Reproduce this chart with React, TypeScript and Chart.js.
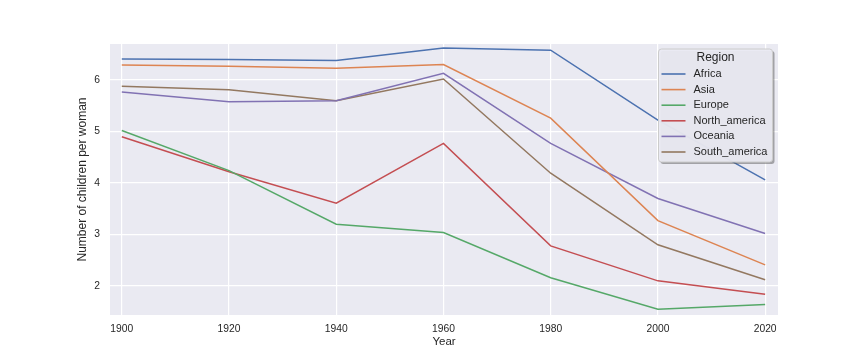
import React, { useEffect, useRef } from "react";
import { Chart, registerables } from "chart.js";

Chart.register(...registerables);

const years = [1900, 1920, 1940, 1960, 1980, 2000, 2020];
const regions = ["Africa", "Asia", "Europe", "North_america", "Oceania", "South_america"];
const africa = [6.41, 6.40, 6.38, 6.62, 6.58, 5.22, 4.06];
const asia = [6.29, 6.27, 6.23, 6.30, 5.26, 3.27, 2.41];
const europe = [5.02, 4.24, 3.20, 3.04, 2.16, 1.55, 1.64];
const northAmerica = [4.90, 4.22, 3.61, 4.77, 2.78, 2.10, 1.84];
const oceania = [5.77, 5.58, 5.60, 6.13, 4.77, 3.70, 3.02];
const southAmerica = [5.88, 5.81, 5.60, 6.02, 4.19, 2.80, 2.12];
const seriesValues = [africa, asia, europe, northAmerica, oceania, southAmerica];
const colors = ["#4c72b0", "#dd8452", "#55a868", "#c44e52", "#8172b3", "#937860"];
const FONT = "'Liberation Sans', Arial, sans-serif";

const bgPlugin = {
  id: "bgPlugin",
  beforeDraw(chart: any) {
    const { ctx, chartArea } = chart;
    ctx.save();
    ctx.fillStyle = "#ffffff";
    ctx.fillRect(0, 0, chart.width, chart.height);
    ctx.fillStyle = "#eaeaf2";
    ctx.fillRect(chartArea.left, chartArea.top, chartArea.right - chartArea.left, chartArea.bottom - chartArea.top);
    ctx.restore();
  },
};

function roundRect(ctx: CanvasRenderingContext2D, x: number, y: number, w: number, h: number, r: number) {
  ctx.beginPath();
  ctx.moveTo(x + r, y);
  ctx.lineTo(x + w - r, y);
  ctx.quadraticCurveTo(x + w, y, x + w, y + r);
  ctx.lineTo(x + w, y + h - r);
  ctx.quadraticCurveTo(x + w, y + h, x + w - r, y + h);
  ctx.lineTo(x + r, y + h);
  ctx.quadraticCurveTo(x, y + h, x, y + h - r);
  ctx.lineTo(x, y + r);
  ctx.quadraticCurveTo(x, y, x + r, y);
  ctx.closePath();
}

const legendPlugin = {
  id: "customLegend",
  afterDraw(chart: any) {
    const { ctx, chartArea } = chart;
    const bx = chartArea.right - 119.5;
    const by = chartArea.top + 5;
    const bw = 114;
    const bh = 113;
    ctx.save();
    roundRect(ctx, bx + 2, by + 2, bw, bh, 3);
    ctx.fillStyle = "rgba(90,90,90,0.5)";
    ctx.fill();
    roundRect(ctx, bx, by, bw, bh, 3);
    ctx.fillStyle = "rgba(234,234,242,0.94)";
    ctx.fill();
    ctx.strokeStyle = "#cccccc";
    ctx.lineWidth = 1;
    ctx.stroke();
    ctx.fillStyle = "#262626";
    ctx.font = `12px ${FONT}`;
    ctx.textAlign = "center";
    ctx.textBaseline = "middle";
    ctx.fillText("Region", bx + bw / 2, by + 8.5);
    ctx.font = `11px ${FONT}`;
    ctx.textAlign = "left";
    chart.data.datasets.forEach((ds: any, i: number) => {
      const y = by + 25 + i * 15.6;
      ctx.strokeStyle = ds.borderColor;
      ctx.lineWidth = 1.6;
      ctx.beginPath();
      ctx.moveTo(bx + 3, y);
      ctx.lineTo(bx + 27, y);
      ctx.stroke();
      ctx.fillStyle = "#262626";
      ctx.fillText(ds.label, bx + 35, y);
    });
    ctx.restore();
  },
};

export default function App() {
  const ref = useRef<HTMLCanvasElement | null>(null);
  useEffect(() => {
    if (!ref.current) return;
    const chart = new Chart(ref.current, {
      type: "line",
      data: {
        datasets: regions.map((r, i) => ({
          label: r,
          data: years.map((x, j) => ({ x, y: seriesValues[i][j] })),
          borderColor: colors[i],
          backgroundColor: colors[i],
          borderWidth: 1.5,
          pointRadius: 0,
          tension: 0,
          fill: false,
        })),
      },
      options: {
        responsive: false,
        animation: false,
        layout: { padding: { left: 0, right: 86, top: 44, bottom: 0 } },
        plugins: { legend: { display: false }, tooltip: { enabled: false } },
        scales: {
          x: {
            type: "linear",
            min: 1897.8,
            max: 2022.4,
            border: { display: false },
            grid: { color: "#ffffff", lineWidth: 1.2, drawTicks: false },
            ticks: {
              stepSize: 20,
              includeBounds: false,
              padding: 7.5,
              color: "#262626",
              font: { family: FONT, size: 10.3 },
              callback: (v: any) => String(v),
              maxRotation: 0,
            },
            title: {
              display: true,
              text: "Year",
              color: "#262626",
              font: { family: FONT, size: 11.5 },
              padding: { top: 0, bottom: 11.1 },
            },
            afterFit: (s: any) => {
              s.height = 45;
            },
          },
          y: {
            type: "linear",
            min: 1.437,
            max: 6.70,
            border: { display: false },
            grid: { color: "#ffffff", lineWidth: 1.2, drawTicks: false },
            ticks: {
              stepSize: 1,
              includeBounds: false,
              padding: 10,
              color: "#262626",
              font: { family: FONT, size: 10.3 },
              callback: (v: any) => String(v),
            },
            title: {
              display: true,
              text: "Number of children per woman",
              color: "#262626",
              font: { family: FONT, size: 12 },
              padding: { top: 75, bottom: 0 },
            },
            afterFit: (s: any) => {
              s.width = 110;
            },
          },
        },
      },
      plugins: [bgPlugin, legendPlugin],
    });
    return () => chart.destroy();
  }, []);
  return (
    <div style={{ position: "fixed", left: 0, top: 0, width: 864, height: 360, background: "#fff" }}>
      <canvas ref={ref} width={864} height={360} style={{ width: 864, height: 360, display: "block" }} />
    </div>
  );
}
